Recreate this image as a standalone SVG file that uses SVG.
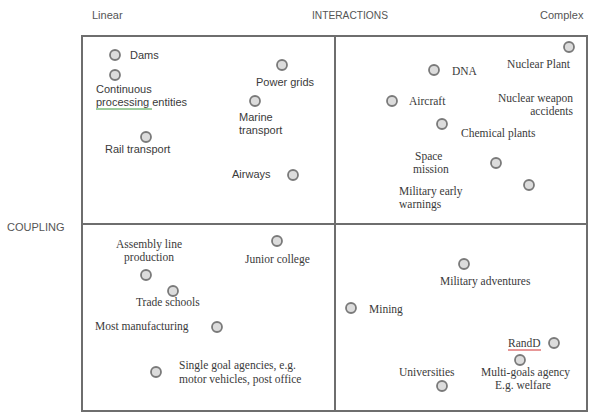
<svg xmlns="http://www.w3.org/2000/svg" width="590" height="414" viewBox="0 0 590 414">
<style>
.s{font-family:"Liberation Sans",Arial,sans-serif;font-size:11px;fill:#3a3a3a}
.f{font-family:"Liberation Serif","Times New Roman",serif;font-size:11.5px;fill:#3a3a3a}
.h{font-family:"Liberation Sans",Arial,sans-serif;font-size:11px;fill:#555}
.n circle{fill:#dcdcdc;stroke:#7a7a7a;stroke-width:1.8}
.ln{stroke:#6e6e6e;stroke-width:2;fill:none}
</style>
<rect width="590" height="414" fill="#fff"/>
<g id="labels">
<text class="h" x="92" y="19">Linear</text>
<text class="h" x="312" y="19" textLength="76" lengthAdjust="spacingAndGlyphs">INTERACTIONS</text>
<text class="h" x="540" y="19">Complex</text>
<text class="h" x="7" y="231">COUPLING</text>
</g>
<g id="connectors">
<rect class="ln" x="82" y="36" width="505" height="375"/>
<line class="ln" x1="335" y1="36" x2="335" y2="411"/>
<line class="ln" x1="82" y1="224" x2="587" y2="224"/>
</g>
<g id="dams" class="n"><circle cx="115" cy="55" r="5"/><text class="s" x="130" y="59">Dams</text></g>
<g id="continuous" class="n"><circle cx="115" cy="75" r="5"/><text class="s" x="96" y="93">Continuous</text><text class="s" x="96" y="106">processing entities</text><line x1="96" y1="109" x2="152" y2="109" stroke="#3a9a3a" stroke-width="1"/></g>
<g id="rail" class="n"><circle cx="146" cy="137" r="5"/><text class="s" x="105" y="153">Rail transport</text></g>
<g id="powergrids" class="n"><circle cx="282" cy="65" r="5"/><text class="s" x="256" y="86">Power grids</text></g>
<g id="marine" class="n"><circle cx="255" cy="101" r="5"/><text class="s" x="239" y="121">Marine</text><text class="s" x="239" y="134">transport</text></g>
<g id="airways" class="n"><circle cx="293" cy="175" r="5"/><text class="s" x="232" y="178">Airways</text></g>
<g id="nuclearplant" class="n"><circle cx="569" cy="47" r="5"/><text class="f" x="570" y="68" text-anchor="end">Nuclear Plant</text></g>
<g id="dna" class="n"><circle cx="434" cy="70" r="5"/><text class="f" x="452" y="75">DNA</text></g>
<g id="aircraft" class="n"><circle cx="392" cy="101" r="5"/><text class="f" x="409" y="105">Aircraft</text></g>
<g id="nuclearweapon"><text class="f" x="573" y="102" text-anchor="end">Nuclear weapon</text><text class="f" x="573" y="115" text-anchor="end">accidents</text></g>
<g id="chemical" class="n"><circle cx="442" cy="124" r="5"/><text class="f" x="461" y="137">Chemical plants</text></g>
<g id="space" class="n"><circle cx="496" cy="163" r="5"/><text class="f" x="415" y="160">Space</text><text class="f" x="413" y="173">mission</text></g>
<g id="military-early" class="n"><circle cx="529" cy="185" r="5"/><text class="f" x="399" y="195">Military early</text><text class="f" x="399" y="208">warnings</text></g>
<g id="assembly" class="n"><circle cx="146" cy="275" r="5"/><text class="f" x="149" y="248" text-anchor="middle">Assembly line</text><text class="f" x="149" y="261" text-anchor="middle">production</text></g>
<g id="junior" class="n"><circle cx="277" cy="241" r="5"/><text class="f" x="245" y="263">Junior college</text></g>
<g id="trade" class="n"><circle cx="173" cy="291" r="5"/><text class="f" x="136" y="306">Trade schools</text></g>
<g id="manufacturing" class="n"><circle cx="217" cy="327" r="5"/><text class="f" x="95" y="330">Most manufacturing</text></g>
<g id="singlegoal" class="n"><circle cx="156" cy="372" r="5"/><text class="f" x="179" y="369">Single goal agencies, e.g.</text><text class="f" x="179" y="383">motor vehicles, post office</text></g>
<g id="military-adv" class="n"><circle cx="464" cy="264" r="5"/><text class="f" x="440" y="285">Military adventures</text></g>
<g id="mining" class="n"><circle cx="351" cy="308" r="5"/><text class="f" x="369" y="313">Mining</text></g>
<g id="randd" class="n"><circle cx="554" cy="343" r="5"/><text class="f" x="508" y="347">RandD</text><line x1="508" y1="350" x2="541" y2="350" stroke="#d03030" stroke-width="1"/></g>
<g id="multigoals" class="n"><circle cx="520" cy="360" r="5"/><text class="f" x="481" y="376">Multi-goals agency</text><text class="f" x="495" y="389">E.g. welfare</text></g>
<g id="universities" class="n"><circle cx="442" cy="386" r="5"/><text class="f" x="399" y="376">Universities</text></g>
</svg>
